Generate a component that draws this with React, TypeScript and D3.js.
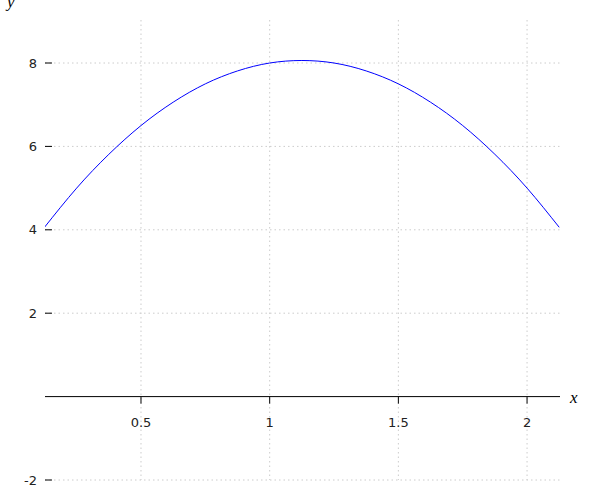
import React from 'react'
import * as d3 from 'd3'

// values
const xValues = [0.125, 0.25, 0.375, 0.5, 0.625, 0.75, 0.875, 1.0, 1.125, 1.25, 1.375, 1.5, 1.625, 1.75, 1.875, 2.0, 2.125]
const yValues = [4.06, 5.0, 5.81, 6.5, 7.06, 7.5, 7.81, 8.0, 8.06, 8.0, 7.81, 7.5, 7.06, 6.5, 5.81, 5.0, 4.06]

const xTicks = [0.5, 1, 1.5, 2]
const yTicks = [-2, 2, 4, 6, 8]

const xDomain = [0.127, 2.128]
const yDomain = [-2, 8]

function App() {
    const width = 600
    const height = 500
    const left = 45
    const right = 560
    const top = 20
    const bottom = 480

    const x = d3.scaleLinear().domain(xDomain).range([left, right])
    const y = d3.scaleLinear().domain(yDomain).range([480, 63])

    const points = xValues.map((d, i) => [d, yValues[i]])

    const line = d3.line()
        .x(d => x(d[0]))
        .y(d => y(d[1]))
        .curve(d3.curveNatural)

    const gridStyle = { stroke: '#ccc', strokeWidth: 1, strokeDasharray: '1.5,3' }
    const labelFont = '"DejaVu Sans", sans-serif'
    const axisLabelFont = '"Liberation Serif", serif'

    return (
        <div style={{ position: 'absolute', left: 0, top: 0 }}>
            <svg width={width} height={height} style={{ display: 'block' }}>
                <defs>
                    <clipPath id="plot-clip">
                        <rect x={left} y={top} width={right - left} height={bottom - top} />
                    </clipPath>
                </defs>

                {/* grid */}
                <g>
                    {xTicks.map(t => (
                        <line key={'gx' + t} x1={x(t)} x2={x(t)} y1={top} y2={bottom} style={gridStyle} />
                    ))}
                    {yTicks.map(t => (
                        <line key={'gy' + t} x1={left} x2={right} y1={y(t)} y2={y(t)} style={gridStyle} />
                    ))}
                </g>

                {/* x axis */}
                <g>
                    <line x1={left} x2={right} y1={y(0)} y2={y(0)} stroke="#000" strokeWidth={1} />
                    {xTicks.map(t => (
                        <g key={'xt' + t} transform={`translate(${x(t)},${y(0)})`}>
                            <line y1={0} y2={7} stroke="#000" />
                            <text y={30} textAnchor="middle" fontFamily={labelFont} fontSize={13} fill="#222">{t}</text>
                        </g>
                    ))}
                    <text x={570} y={403} fontFamily={axisLabelFont} fontStyle="italic" fontSize={17} fill="#000">x</text>
                </g>

                {/* y axis */}
                <g>
                    {yTicks.map(t => (
                        <g key={'yt' + t} transform={`translate(${left},${y(t)})`}>
                            <line x1={0} x2={7} stroke="#000" />
                            <text x={-8} dy="0.35em" textAnchor="end" fontFamily={labelFont} fontSize={13} fill="#222">{t}</text>
                        </g>
                    ))}
                    <text x={7} y={7} fontFamily={axisLabelFont} fontStyle="italic" fontSize={17} fill="#000">y</text>
                </g>

                {/* curve */}
                <path d={line(points)} fill="none" stroke="#0000ff" strokeWidth={1} clipPath="url(#plot-clip)" />
            </svg>
        </div>
    )
}

export default App
